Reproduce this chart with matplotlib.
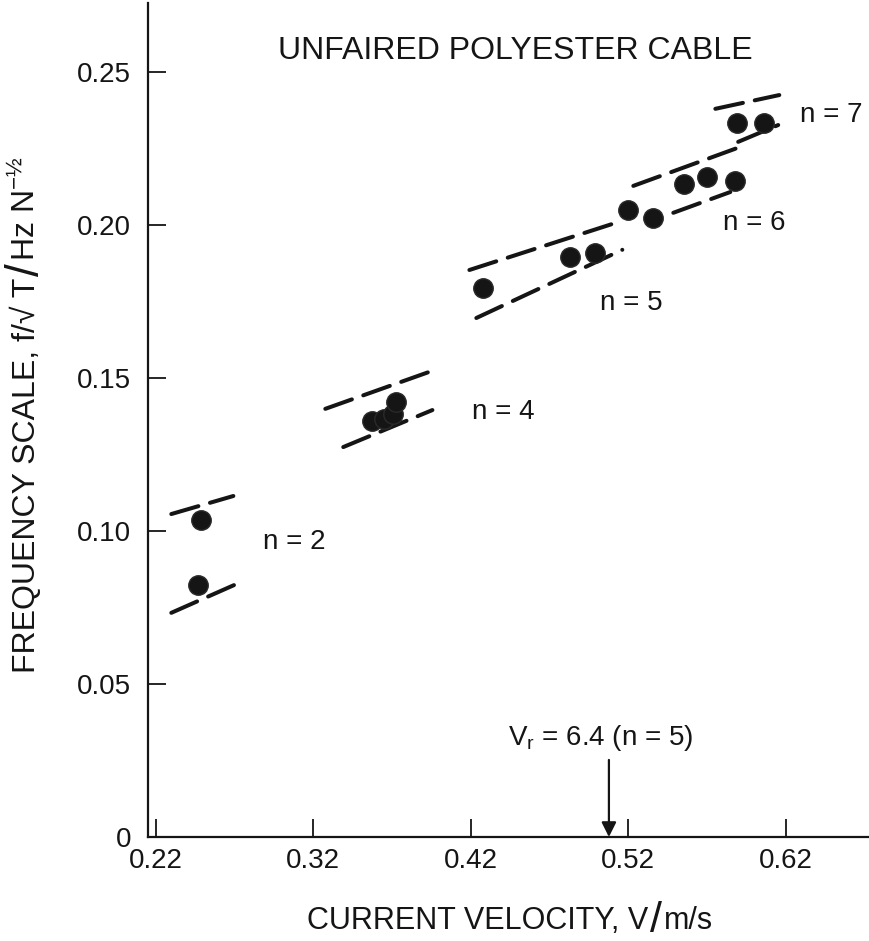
import matplotlib
matplotlib.use("Agg")
import matplotlib.pyplot as plt
from matplotlib.transforms import IdentityTransform

plt.rcParams["font.family"] = ["Liberation Sans", "DejaVu Sans"]
plt.rcParams["mathtext.fontset"] = "custom"
plt.rcParams["mathtext.rm"] = "Liberation Sans"
plt.rcParams["mathtext.default"] = "regular"

# Measured frequency scale vs current velocity, grouped by mode number
vel_n2 = [0.2489, 0.2470]
frq_n2 = [0.1037, 0.0824]
vel_n4 = [0.3571, 0.3647, 0.3705, 0.3727]
frq_n4 = [0.1360, 0.1367, 0.1383, 0.1422]
vel_n5 = [0.4279, 0.4832, 0.4991]
frq_n5 = [0.1795, 0.1897, 0.1910]
vel_n6 = [0.5200, 0.5359, 0.5556, 0.5702, 0.5879]
frq_n6 = [0.2050, 0.2024, 0.2135, 0.2158, 0.2145]
vel_n7 = [0.5890, 0.6063]
frq_n7 = [0.2334, 0.2336]

# Predicted band limits for each mode (start/end velocity, start/end frequency)
band_vel = {
    "n2_hi": [0.2298, 0.2692], "n2_lo": [0.2298, 0.2711],
    "n4_hi": [0.3276, 0.3937], "n4_lo": [0.3390, 0.3956],
    "n5_hi": [0.4191, 0.5162], "n5_lo": [0.4235, 0.5162],
    "n6_hi": [0.5232, 0.5893], "n6_lo": [0.5486, 0.5848],
    "n7_hi": [0.5753, 0.6159], "n7_lo": [0.5898, 0.6152],
}
band_frq = {
    "n2_hi": [0.1056, 0.1115], "n2_lo": [0.0733, 0.0827],
    "n4_hi": [0.1400, 0.1521], "n4_lo": [0.1275, 0.1396],
    "n5_hi": [0.1854, 0.2015], "n5_lo": [0.1697, 0.1920],
    "n6_hi": [0.2129, 0.2253], "n6_lo": [0.2041, 0.2109],
    "n7_hi": [0.2381, 0.2426], "n7_lo": [0.2273, 0.2328],
}

mode_labels = ["n = 2", "n = 4", "n = 5", "n = 6", "n = 7"]
label_vel = [0.2883, 0.4210, 0.5022, 0.5803, 0.6292]
label_frq = [0.0965, 0.1390, 0.1746, 0.2008, 0.2361]

xticks = [0.22, 0.32, 0.42, 0.52, 0.62]
xtick_labels = ["0.22", "0.32", "0.42", "0.52", "0.62"]
yticks = [0, 0.05, 0.10, 0.15, 0.20, 0.25]
ytick_labels = ["0", "0.05", "0.10", "0.15", "0.20", "0.25"]

vr_velocity = 0.5077

W, H = 870, 941
fig = plt.figure(figsize=(W / 100, H / 100), dpi=100)
ax = fig.add_axes([148 / W, 104 / H, 722 / W, 834 / H])
ax.set_xlim(0.2150, 0.6735)
ax.set_ylim(0, 0.2727)

ink = "#151515"
fs = 20

for key in band_vel:
    ax.plot(band_vel[key], band_frq[key], color=ink, lw=2.9,
            dashes=(7.0, 3.0), dash_capstyle="round", solid_capstyle="round")

for xs, ys in [(vel_n2, frq_n2), (vel_n4, frq_n4), (vel_n5, frq_n5),
               (vel_n6, frq_n6), (vel_n7, frq_n7)]:
    ax.plot(xs, ys, ls="none", marker="o", ms=14, color=ink,
            mec="#2a2a2a", mew=1.0, zorder=3)

for t, x, y in zip(mode_labels, label_vel, label_frq):
    ax.text(x, y, t, fontsize=fs, ha="left", va="center", color=ink)

ax.text(0.2978, 0.2570, "UNFAIRED POLYESTER CABLE", fontsize=23,
        ha="left", va="center", color=ink)

ax.text(0.4438, 0.0324, r"V$_r$ = 6.4 (n = 5)", fontsize=fs,
        ha="left", va="center", color=ink)
ax.annotate("", xy=(vr_velocity, 0), xytext=(vr_velocity, 0.0252),
            arrowprops=dict(arrowstyle="-|>", color=ink, lw=1.6,
                            mutation_scale=22, shrinkA=0, shrinkB=0))

for side in ["top", "right"]:
    ax.spines[side].set_visible(False)
for side in ["left", "bottom"]:
    ax.spines[side].set_linewidth(1.6)
    ax.spines[side].set_color(ink)

ax.set_xticks(xticks)
ax.set_xticklabels(xtick_labels)
ax.set_yticks(yticks)
ax.set_yticklabels(ytick_labels)
ax.tick_params(axis="both", direction="in", length=13, width=1.3,
               labelsize=fs, colors=ink)
ax.tick_params(axis="y", pad=12)
ax.tick_params(axis="x", pad=8)


def compose_label(pieces, centre, baseline, vertical):
    """Lay out text pieces of mixed size end to end along one baseline."""
    renderer = fig.canvas.get_renderer()
    texts, lengths = [], []
    for s, size, shift in pieces:
        t = fig.text(0, 0, s, fontsize=size, color=ink, ha="left",
                     va="baseline", rotation=90 if vertical else 0,
                     rotation_mode="anchor", transform=IdentityTransform())
        bb = t.get_window_extent(renderer)
        texts.append((t, shift))
        lengths.append(bb.height if vertical else bb.width)
    gap = 2
    total = sum(lengths) + gap * (len(lengths) - 1)
    cursor = centre - total / 2
    for (t, shift), L in zip(texts, lengths):
        if vertical:
            t.set_position((baseline + shift, cursor))
        else:
            t.set_position((cursor, baseline - shift))
        cursor += L + gap


compose_label([("CURRENT VELOCITY, V", 22, 0), ("/", 31, 3), ("m/s", 22, 0)],
              centre=510, baseline=12, vertical=False)
compose_label([("FREQUENCY SCALE, f/\u221a T", 23, 0), ("/", 33, 4),
               ("Hz N$^{-\u00bd}$", 23, 0)],
              centre=H - 415, baseline=35, vertical=True)

fig.savefig("out.png", dpi=100, facecolor="white")
